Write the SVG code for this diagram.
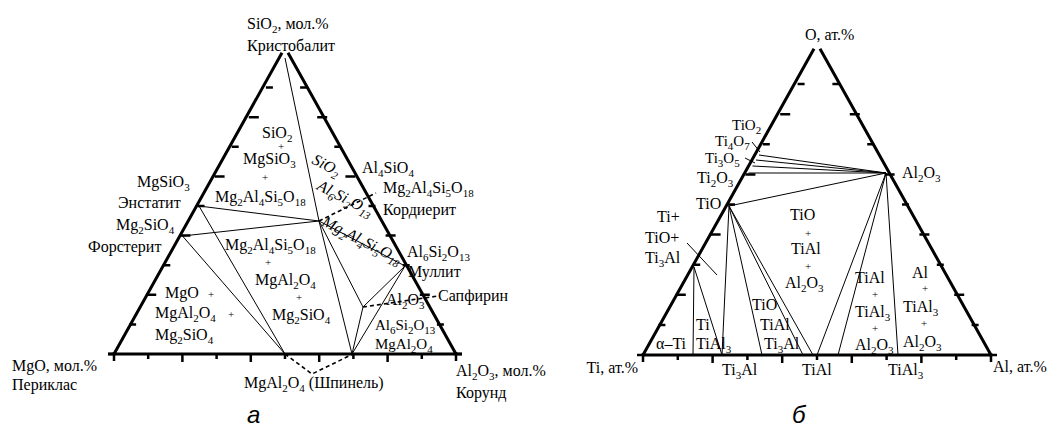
<svg xmlns="http://www.w3.org/2000/svg" width="1058" height="430" viewBox="0 0 1058 430" font-family="'Liberation Serif','Times New Roman',serif">
<style>
text{font-family:"Liberation Serif","Times New Roman",serif;font-size:16px;fill:#000}
.b{font-size:11px;baseline-shift:-4px}
.p{font-size:11px}
.it{font-style:italic}
.big{font-family:"Liberation Sans",Arial,sans-serif;font-style:italic;font-size:24px}
.edge{stroke:#000;stroke-width:3;fill:none}
.tk{stroke:#000;stroke-width:2.5;fill:none}
.ln{stroke:#000;stroke-width:1;fill:none}
.ds{stroke:#000;stroke-width:1.6;fill:none;stroke-dasharray:4 3}
</style>
<rect width="1058" height="430" fill="#fff"/>

<!-- Left triangle frame -->
<g id="frameA">
<path class="edge" d="M108,354H462M282,52.8L114,354M288,52.8L456,354"/>
<path class="tk" d="M114,352v9M456,352v9M116,354h-8M454,354h8
M148.2,354v5M182.4,354v8M216.6,354v5M250.8,354v8M285,354v5M319.2,354v8M353.4,354v5M387.6,354v8M421.8,354v5
M129.1,324.4h7M146.2,294.8h10M163.3,265.2h7M180.4,235.6h10M197.5,206h7M214.6,176.4h10M231.7,146.8h7M248.8,117.2h10M265.9,87.6h7
M436.9,324.4h7M419.8,294.8h10M402.7,265.2h7M385.6,235.6h10M368.5,206h7M355.4,176.4h-10M334.3,146.8h7M317.2,117.2h10M300.1,87.6h7"/>
</g>

<!-- Left triangle connectors -->
<g id="connectorsA">
<path class="ln" d="M285,58L319,221M199,206L319,221M182.5,236L319,221M182.5,236L285,354M199,206L285,354
M319,221L405,266M319,221L352,354M319,221L363,307M405,266L363,307M405,266L352,354M363,307L352,354"/>
<path class="ds" d="M319,221L376,193M363,307L438,296M285,354L312,374L353,354"/>
</g>

<!-- Left triangle labels -->
<g id="labelsA">
<text x="247" y="29">SiO<tspan class="b">2</tspan>, мол.%</text>
<text x="247" y="51">Кристобалит</text>
<text x="262" y="138">SiO<tspan class="b">2</tspan></text>
<text x="278" y="150" class="p">+</text>
<text x="243" y="164">MgSiO<tspan class="b">3</tspan></text>
<text x="262" y="181" class="p">+</text>
<text x="215" y="202">Mg<tspan class="b">2</tspan>Al<tspan class="b">4</tspan>Si<tspan class="b">5</tspan>O<tspan class="b">18</tspan></text>
<text class="it" transform="translate(311,163) rotate(27)">SiO<tspan class="b">2</tspan></text>
<text class="it" transform="translate(316,189) rotate(27)">Al<tspan class="b">6</tspan>Si<tspan class="b">2</tspan>O<tspan class="b">13</tspan></text>
<text class="it" transform="translate(321,225) rotate(27)">Mg<tspan class="b">2</tspan>Al<tspan class="b">4</tspan>Si<tspan class="b">5</tspan>O<tspan class="b">18</tspan></text>
<text x="362" y="173">Al<tspan class="b">4</tspan>SiO<tspan class="b">4</tspan></text>
<text x="383" y="193">Mg<tspan class="b">2</tspan>Al<tspan class="b">4</tspan>Si<tspan class="b">5</tspan>O<tspan class="b">18</tspan></text>
<text x="383" y="215">Кордиерит</text>
<text x="407" y="257">Al<tspan class="b">6</tspan>Si<tspan class="b">2</tspan>O<tspan class="b">13</tspan></text>
<text x="408" y="277">Муллит</text>
<text x="438" y="301">Сапфирин</text>
<text x="386" y="305">Al<tspan class="b">2</tspan>O<tspan class="b">3</tspan></text>
<text x="375" y="330" style="font-size:15px">Al<tspan class="b">6</tspan>Si<tspan class="b">2</tspan>O<tspan class="b">13</tspan></text>
<text x="375" y="349" style="font-size:15px">MgAl<tspan class="b">2</tspan>O<tspan class="b">4</tspan></text>
<text x="456" y="376">Al<tspan class="b">2</tspan>O<tspan class="b">3</tspan>, мол.%</text>
<text x="456" y="398">Корунд</text>
<text x="244" y="388">MgAl<tspan class="b">2</tspan>O<tspan class="b">4</tspan> (Шпинель)</text>
<text x="12" y="371">MgO, мол.%</text>
<text x="12" y="390">Периклас</text>
<text x="137" y="187">MgSiO<tspan class="b">3</tspan></text>
<text x="118" y="208">Энстатит</text>
<text x="116" y="230">Mg<tspan class="b">2</tspan>SiO<tspan class="b">4</tspan></text>
<text x="88" y="252">Форстерит</text>
<text x="225" y="250">Mg<tspan class="b">2</tspan>Al<tspan class="b">4</tspan>Si<tspan class="b">5</tspan>O<tspan class="b">18</tspan></text>
<text x="265" y="266" class="p">+</text>
<text x="255" y="285">MgAl<tspan class="b">2</tspan>O<tspan class="b">4</tspan></text>
<text x="296" y="301" class="p">+</text>
<text x="272" y="320">Mg<tspan class="b">2</tspan>SiO<tspan class="b">4</tspan></text>
<text x="165" y="298">MgO</text>
<text x="208" y="298" class="p">+</text>
<text x="155" y="318">MgAl<tspan class="b">2</tspan>O<tspan class="b">4</tspan></text>
<text x="228" y="318" class="p">+</text>
<text x="155" y="340">Mg<tspan class="b">2</tspan>SiO<tspan class="b">4</tspan></text>
<text x="247" y="423" class="big">а</text>
</g>

<!-- Right triangle frame -->
<g id="frameB">
<path class="edge" d="M643,355H991M814,48.8L643,355M820,48.8L991,355"/>
<path class="tk" d="M643,353v9M991,353v9M645,355h-8M989,355h8
M677.8,355v5M712.6,355v8M747.4,355v5M782.2,355v8M817,355v5M851.8,355v8M886.6,355v5M921.4,355v8M956.2,355v5
M658.4,324.9h7M675.8,294.8h10M693.2,264.7h7M710.6,234.6h10M728,204.5h7M745.4,174.4h10M762.8,144.3h7M780.2,114.2h10M797.6,84.1h7
M971.6,324.9h7M954.2,294.8h10M936.8,264.7h7M919.4,234.6h10M902,204.5h7M884.6,174.4h10M867.2,144.3h7M849.8,114.2h10M832.4,84.1h7"/>
</g>

<!-- Right triangle connectors -->
<g id="connectorsB">
<path class="ln" d="M759,155L886,173M756,160L886,173M752.5,166L886,173M748.5,173L886,173M729,206L886,173
M694,267L693,355M694,267L722,355M729,206L722,355M729,206L762,355M729,206L803,355M729,206L813,355
M886,173L817,355M886,173L838,355M886,173L898,355
M687,243L717,275M752,142L760,152M745,158L755,163"/>
</g>

<!-- Right triangle labels -->
<g id="labelsB">
<text x="805" y="40">O, ат.%</text>
<text x="732" y="130" style="font-size:15px">TiO<tspan class="b">2</tspan></text>
<text x="715" y="146" style="font-size:15px">Ti<tspan class="b">4</tspan>O<tspan class="b">7</tspan></text>
<text x="705" y="163" style="font-size:15px">Ti<tspan class="b">3</tspan>O<tspan class="b">5</tspan></text>
<text x="697" y="183">Ti<tspan class="b">2</tspan>O<tspan class="b">3</tspan></text>
<text x="696" y="209">TiO</text>
<text x="902" y="178">Al<tspan class="b">2</tspan>O<tspan class="b">3</tspan></text>
<text x="657" y="222">Ti+</text>
<text x="645" y="243">TiO+</text>
<text x="645" y="263">Ti<tspan class="b">3</tspan>Al</text>
<text x="790" y="220">TiO</text>
<text x="805" y="237" class="p">+</text>
<text x="791" y="254">TiAl</text>
<text x="805" y="270" class="p">+</text>
<text x="785" y="288">Al<tspan class="b">2</tspan>O<tspan class="b">3</tspan></text>
<text x="752" y="310">TiO</text>
<text x="760" y="330">TiAl</text>
<text x="764" y="349">Ti<tspan class="b">3</tspan>Al</text>
<text x="696" y="330">Ti</text>
<text x="696" y="349">TiAl<tspan class="b">3</tspan></text>
<text x="656" y="349">α–Ti</text>
<text x="722" y="375">Ti<tspan class="b">3</tspan>Al</text>
<text x="802" y="375">TiAl</text>
<text x="888" y="375">TiAl<tspan class="b">3</tspan></text>
<text x="638" y="373" text-anchor="end">Ti, ат.%</text>
<text x="993" y="372">Al, ат.%</text>
<text x="855" y="283">TiAl</text>
<text x="872" y="298" class="p">+</text>
<text x="855" y="317">TiAl<tspan class="b">3</tspan></text>
<text x="872" y="332" class="p">+</text>
<text x="855" y="350">Al<tspan class="b">2</tspan>O<tspan class="b">3</tspan></text>
<text x="912" y="278">Al</text>
<text x="922" y="292" class="p">+</text>
<text x="903" y="312">TiAl<tspan class="b">3</tspan></text>
<text x="921" y="327" class="p">+</text>
<text x="903" y="347">Al<tspan class="b">2</tspan>O<tspan class="b">3</tspan></text>
<text x="792" y="423" class="big">б</text>
</g>
</svg>
